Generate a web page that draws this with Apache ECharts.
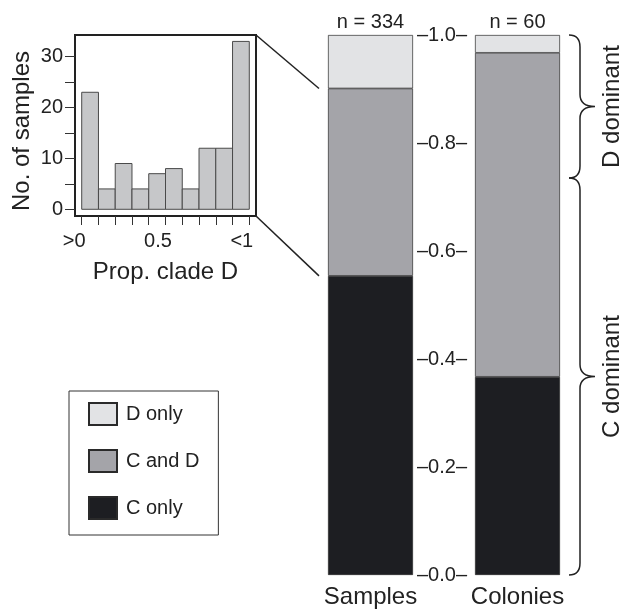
<!DOCTYPE html>
<html><head><meta charset="utf-8">
<script src="https://cdn.jsdelivr.net/npm/echarts@6/dist/echarts.min.js"></script>
<style>html,body{margin:0;padding:0;background:#fff}#c{width:625px;height:612px}</style>
</head><body><div id="c"></div>
<script>
// ---- data ----
const binStarts = [0.0, 0.1, 0.2, 0.3, 0.4, 0.5, 0.6, 0.7, 0.8, 0.9];
const binEnds   = [0.1, 0.2, 0.3, 0.4, 0.5, 0.6, 0.7, 0.8, 0.9, 1.0];
const binCounts = [23, 4, 9, 4, 7, 8, 4, 12, 12, 33];
const histTickValues = [0, 5, 10, 15, 20, 25, 30];
const histLabelValues = [0, 10, 20, 30];
const propTickValues = [0, 0.1, 0.2, 0.3, 0.4, 0.5, 0.6, 0.7, 0.8, 0.9, 1.0];
const propLabelValues = [0, 0.5, 1.0];
const propLabelText = ['>0', '0.5', '<1'];

const groups = ['Samples', 'Colonies'];
const groupN = [334, 60];
const cOnly = [0.554, 0.367];
const cAndD = [0.347, 0.600];
const dOnly = [0.099, 0.033];

const braceLow = [0.735, 0.0];
const braceHigh = [1.0, 0.735];
const braceLabels = ['D dominant', 'C dominant'];

// ---- style ----
const FONT = 'Liberation Sans, Arial, Helvetica, sans-serif';
const TXT = '#222';
const BAR_W = 85;

const chart = echarts.init(document.getElementById('c'), null, {renderer: 'canvas'});

const option = {
  animation: false,
  backgroundColor: '#fff',
  textStyle: {fontFamily: FONT, color: TXT},
  grid: [
    {left: 75, top: 35, width: 181, height: 181, show: true, borderColor: '#222', borderWidth: 2, backgroundColor: 'transparent'},
    {left: 297, top: 35, width: 294, height: 540, show: false}
  ],
  xAxis: [
    {
      gridIndex: 0, type: 'value', min: -0.04, max: 1.04,
      name: 'Prop. clade D', nameLocation: 'middle', nameGap: 44,
      nameTextStyle: {fontSize: 24, color: TXT, fontFamily: FONT},
      axisLine: {show: false, onZero: false},
      splitLine: {show: false},
      axisTick: {show: true, customValues: propTickValues, length: 9, lineStyle: {color: '#333', width: 1}},
      axisLabel: {
        customValues: propLabelValues, fontSize: 20, color: TXT, fontFamily: FONT, margin: 15,
        align: 'center', padding: [0, 15, 0, 0],
        formatter: function (v) {
          for (let i = 0; i < propLabelValues.length; i++) {
            if (Math.abs(propLabelValues[i] - v) < 1e-6) return propLabelText[i];
          }
          return '';
        }
      }
    },
    {
      gridIndex: 1, type: 'category', data: groups,
      axisLine: {show: false}, axisTick: {show: false},
      axisLabel: {fontSize: 24, color: TXT, fontFamily: FONT, margin: 10}
    }
  ],
  yAxis: [
    {
      gridIndex: 0, type: 'value', min: -1.32, max: 34.26,
      name: 'No. of samples', nameLocation: 'middle', nameGap: 41, nameRotate: 90,
      nameTextStyle: {fontSize: 24, color: TXT, fontFamily: FONT, padding: [0, 11, 0, 0]},
      axisLine: {show: false, onZero: false},
      splitLine: {show: false},
      axisTick: {show: true, customValues: histTickValues, length: 10, lineStyle: {color: '#333', width: 1}},
      axisLabel: {customValues: histLabelValues, fontSize: 20, color: TXT, fontFamily: FONT, margin: 12}
    },
    {
      gridIndex: 1, type: 'value', min: 0, max: 1, interval: 0.2,
      position: 'left', offset: -145,
      axisLine: {show: false, onZero: false}, axisTick: {show: false}, splitLine: {show: false},
      axisLabel: {
        margin: 0, align: 'center', fontSize: 20, color: TXT, fontFamily: FONT,
        formatter: function (v) { return '\u2013' + v.toFixed(1) + '\u2013'; }
      }
    }
  ],
  legend: {
    orient: 'vertical', left: 69, top: 391,
    data: ['D only', 'C and D', 'C only'],
    icon: 'rect', itemWidth: 28, itemHeight: 22, itemGap: 23,
    padding: [11, 19, 15, 19],
    borderColor: '#333', borderWidth: 1,
    selectedMode: false,
    textStyle: {fontSize: 20, color: TXT, fontFamily: FONT, padding: [0, 0, 0, 4]}
  },
  series: [
    {
      type: 'custom', name: 'hist', xAxisIndex: 0, yAxisIndex: 0,
      data: binStarts.map(function (s, i) { return [s, binEnds[i], binCounts[i]]; }),
      encode: {x: [0, 1], y: 2},
      renderItem: function (params, api) {
        const p0 = api.coord([api.value(0), api.value(2)]);
        const p1 = api.coord([api.value(1), 0]);
        return {
          type: 'rect',
          shape: {x: p0[0], y: p0[1], width: p1[0] - p0[0], height: p1[1] - p0[1]},
          style: {fill: '#c6c7c9', stroke: '#4a4a4a', lineWidth: 1}
        };
      }
    },
    {
      name: 'C only', type: 'bar', stack: 'tot', xAxisIndex: 1, yAxisIndex: 1, barWidth: BAR_W,
      data: cOnly, itemStyle: {color: '#1d1e22', borderColor: '#2a2a2a', borderWidth: 0.7}
    },
    {
      name: 'C and D', type: 'bar', stack: 'tot', xAxisIndex: 1, yAxisIndex: 1, barWidth: BAR_W,
      data: cAndD, itemStyle: {color: '#a4a4a9', borderColor: '#2a2a2a', borderWidth: 0.7}
    },
    {
      name: 'D only', type: 'bar', stack: 'tot', xAxisIndex: 1, yAxisIndex: 1, barWidth: BAR_W,
      data: dOnly, itemStyle: {color: '#e2e3e5', borderColor: '#2a2a2a', borderWidth: 0.7},
      label: {
        show: true, position: 'top', distance: 3, fontSize: 20, color: TXT, fontFamily: FONT,
        formatter: function (p) { return 'n = ' + groupN[p.dataIndex]; }
      }
    },
    {
      type: 'custom', name: 'braces', xAxisIndex: 1, yAxisIndex: 1, clip: false,
      data: braceLow.map(function (l, i) { return [1, l, braceHigh[i]]; }),
      encode: {x: 0, y: [1, 2]},
      renderItem: function (params, api) {
        const top = api.coord([api.value(0), api.value(2)]);
        const bot = api.coord([api.value(0), api.value(1)]);
        const cx = top[0], y1 = top[1], y2 = bot[1], ym = (y1 + y2) / 2;
        const xL = cx + 51.5, xM = cx + 62.5, xT = cx + 77.5, r = 12;
        const d = 'M' + xL + ' ' + y1 +
          ' Q' + xM + ' ' + y1 + ' ' + xM + ' ' + (y1 + r) +
          ' L' + xM + ' ' + (ym - r) +
          ' Q' + xM + ' ' + ym + ' ' + xT + ' ' + ym +
          ' Q' + xM + ' ' + ym + ' ' + xM + ' ' + (ym + r) +
          ' L' + xM + ' ' + (y2 - r) +
          ' Q' + xM + ' ' + y2 + ' ' + xL + ' ' + y2;
        return {
          type: 'group',
          children: [
            {type: 'path', shape: {pathData: d}, style: {fill: null, stroke: '#222', lineWidth: 1.5}},
            {type: 'text', x: cx + 95, y: ym, rotation: Math.PI / 2,
             style: {text: braceLabels[params.dataIndex], fontSize: 24, fontFamily: FONT, fill: TXT, align: 'center', verticalAlign: 'middle'}}
          ]
        };
      }
    }
  ]
};

chart.setOption(option);

// zoom lines from histogram box corners to the "C and D" segment of Samples
const boxTop = chart.convertToPixel({xAxisIndex: 0, yAxisIndex: 0}, [1.04, 34.26]);
const boxBot = chart.convertToPixel({xAxisIndex: 0, yAxisIndex: 0}, [1.04, -1.32]);
const segTop = chart.convertToPixel({xAxisIndex: 1, yAxisIndex: 1}, [0, cOnly[0] + cAndD[0]]);
const segBot = chart.convertToPixel({xAxisIndex: 1, yAxisIndex: 1}, [0, cOnly[0]]);
const endX = segTop[0] - BAR_W / 2 - 9;
chart.setOption({
  graphic: [
    {type: 'line', shape: {x1: boxTop[0], y1: boxTop[1], x2: endX, y2: segTop[1]}, style: {stroke: '#222', lineWidth: 1.5}},
    {type: 'line', shape: {x1: boxBot[0], y1: boxBot[1], x2: endX, y2: segBot[1]}, style: {stroke: '#222', lineWidth: 1.5}}
  ]
});
</script>
</body></html>
